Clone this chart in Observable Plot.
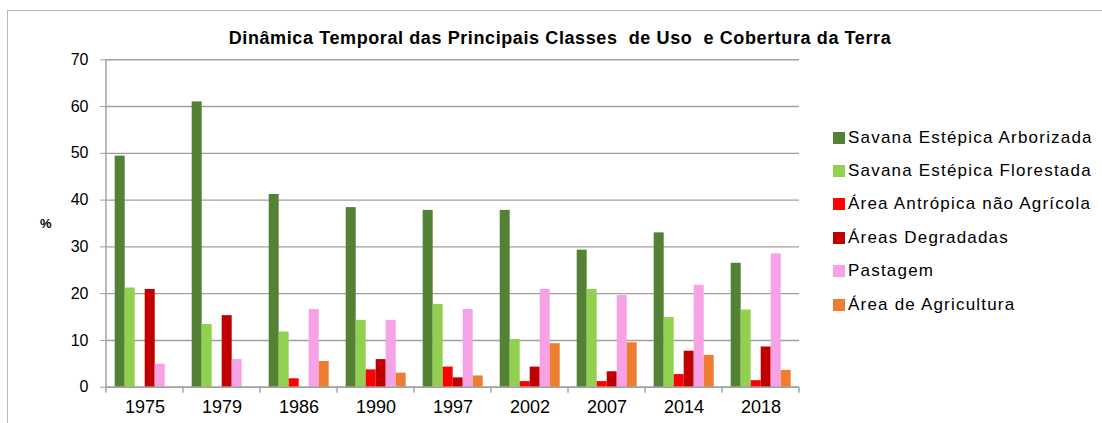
<!DOCTYPE html>
<html>
<head>
<meta charset="utf-8">
<script src="https://cdn.jsdelivr.net/npm/d3@7"></script>
<script src="https://cdn.jsdelivr.net/npm/@observablehq/plot@0.6"></script>
<style>
  body { margin: 0; background: #fff; font-family: "Liberation Sans", Arial, sans-serif; }
  #wrap { position: relative; width: 1102px; height: 423px; overflow: hidden; }
  #border { position: absolute; left: 7px; top: 10px; width: 1120px; height: 440px;
            border-left: 1.5px solid #b8b8b8; border-top: 1.5px solid #b8b8b8; }
  #title { position: absolute; left: 0; width: 1120px; top: 28px; text-align: center;
           font-weight: bold; font-size: 18px; letter-spacing: 0.6px; color: #000; }
  #ylabel { position: absolute; left: 40px; top: 216px; font-weight: bold; font-size: 13px; color: #000; }
  #chart { position: absolute; left: 0; top: 50px; }
  #legend { position: absolute; left: 833px; top: 121px; }
  .item { display: flex; align-items: center; height: 33.4px; font-size: 17px;
          letter-spacing: 1.2px; color: #000; white-space: nowrap; }
  .sw { width: 12px; height: 12px; margin-right: 3px; flex: none; }
</style>
</head>
<body>
<div id="wrap">
  <div id="border"></div>
  <div id="title">Dinâmica Temporal das Principais Classes&nbsp; de Uso&nbsp; e Cobertura da Terra</div>
  <div id="ylabel">%</div>
  <div id="chart"></div>
  <div id="legend"></div>
</div>
<script>
const years = ["1975", "1979", "1986", "1990", "1997", "2002", "2007", "2014", "2018"];
const series = [
  "Savana Estépica Arborizada",
  "Savana Estépica Florestada",
  "Área Antrópica não Agrícola",
  "Áreas Degradadas",
  "Pastagem",
  "Área de Agricultura"
];
const colors = ["#548235", "#92d050", "#ff0000", "#c00000", "#f7a1e6", "#ed7d31"];

const savanaArborizada = [49.4, 61.0, 41.2, 38.4, 37.8, 37.8, 29.3, 33.0, 26.5];
const savanaFlorestada = [21.2, 13.4, 11.8, 14.3, 17.7, 10.2, 20.9, 14.9, 16.5];
const areaAntropica    = [0, 0, 1.8, 3.7, 4.3, 1.2, 1.2, 2.7, 1.4];
const areasDegradadas  = [20.9, 15.3, 0, 5.9, 2.0, 4.3, 3.3, 7.7, 8.6];
const pastagem         = [4.9, 5.9, 16.6, 14.3, 16.6, 20.9, 19.6, 21.8, 28.5];
const agricultura      = [0, 0, 5.5, 3.0, 2.4, 9.3, 9.5, 6.8, 3.6];
const yTicks = [0, 10, 20, 30, 40, 50, 60, 70];

const seriesValues = [savanaArborizada, savanaFlorestada, areaAntropica, areasDegradadas, pastagem, agricultura];
const data = [];
years.forEach((yr, i) => {
  series.forEach((s, j) => data.push({year: yr, series: s, value: seriesValues[j][i]}));
});

const gridColor = "#a0a0a0";
const plot = Plot.plot({
  width: 820,
  height: 373,
  marginTop: 9.3,
  marginBottom: 36.3,
  marginLeft: 103.3,
  marginRight: 18.3,
  style: {fontFamily: "'Liberation Sans', Arial, sans-serif", fontSize: "16px", color: "#000", background: "transparent"},
  fx: {domain: years, padding: 0, label: null},
  x: {domain: series, paddingInner: 0, paddingOuter: 0.75, axis: null},
  y: {domain: [0, 70], label: null},
  color: {domain: series, range: colors},
  marks: [
    Plot.gridY(yTicks, {stroke: gridColor, strokeOpacity: 1, strokeWidth: 1.4}),
    Plot.axisY(yTicks, {tickSize: 6, tickPadding: 12, fontSize: 16, stroke: gridColor, strokeOpacity: 1, label: null}),
    Plot.axisFx({anchor: "bottom", tickSize: 0, tickPadding: 13, fontSize: 18, label: null}),
    Plot.barY(data, {fx: "year", x: "series", y: "value", fill: "series"}),
    Plot.ruleY([0], {stroke: gridColor, strokeWidth: 1.4})
  ]
});
document.getElementById("chart").appendChild(plot);

// Category-boundary tick marks and vertical axis line, positioned from Plot's own scales
const fx = plot.scale("fx");
const ys = plot.scale("y");
const y0 = ys.apply(0), y70 = ys.apply(70);
const bounds = years.map(d => fx.apply(d)).concat([fx.apply(years[years.length - 1]) + fx.bandwidth]);
const svg = d3.select(plot);
svg.append("g").selectAll("line").data(bounds).join("line")
  .attr("x1", d => d).attr("x2", d => d)
  .attr("y1", y0).attr("y2", y0 + 6)
  .attr("stroke", gridColor).attr("stroke-width", 1.4);
svg.append("line")
  .attr("x1", bounds[0]).attr("x2", bounds[0])
  .attr("y1", y70).attr("y2", y0)
  .attr("stroke", gridColor).attr("stroke-width", 1.4);

// Legend
const legend = d3.select("#legend");
series.forEach((s, j) => {
  const it = legend.append("div").attr("class", "item");
  it.append("div").attr("class", "sw").style("background", colors[j]);
  it.append("span").text(s);
});
</script>
</body>
</html>
